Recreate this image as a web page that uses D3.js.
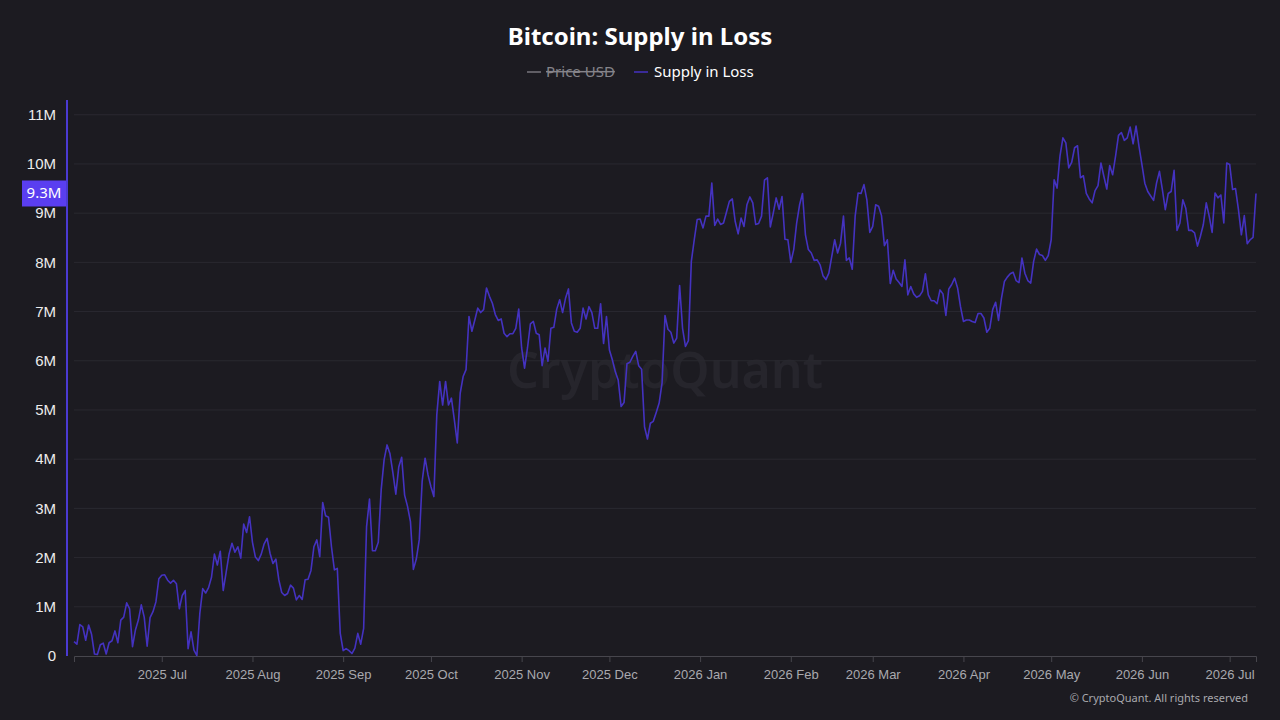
<!DOCTYPE html>
<html>
<head>
<meta charset="utf-8">
<script src="https://cdn.jsdelivr.net/npm/d3@7"></script>
<style>
  html, body { margin: 0; padding: 0; background: #1c1b21; }
  svg { display: block; font-family: "Noto Sans", "Open Sans", sans-serif; }
</style>
</head>
<body>
<script>
// daily Supply in Loss (millions of BTC), starting 2025-06-01
const startDate = new Date(2025, 5, 1);
const supplyInLoss = [
  0.29,0.24,0.64,0.59,0.32,0.63,0.44,0.04,0.03,0.23,
  0.26,0.04,0.27,0.31,0.51,0.27,0.73,0.79,1.08,0.96,
  0.19,0.53,0.73,1.04,0.79,0.20,0.78,0.90,1.10,1.57,
  1.64,1.65,1.54,1.48,1.54,1.47,0.96,1.23,1.33,0.15,
  0.49,0.12,0.01,0.86,1.37,1.28,1.39,1.60,2.07,1.85,
  2.13,1.33,1.70,2.07,2.29,2.11,2.22,1.99,2.68,2.51,
  2.83,2.31,2.01,1.94,2.07,2.28,2.39,2.09,1.88,1.97,
  1.55,1.29,1.23,1.27,1.44,1.38,1.14,1.23,1.15,1.55,
  1.56,1.74,2.22,2.36,2.02,3.12,2.85,2.82,2.22,1.75,
  1.78,0.46,0.11,0.15,0.11,0.05,0.16,0.46,0.24,0.56,
  2.63,3.19,2.14,2.14,2.31,3.38,3.99,4.29,4.11,3.72,
  3.29,3.84,4.04,3.27,3.04,2.73,1.76,1.97,2.36,3.55,
  4.02,3.68,3.44,3.24,4.90,5.58,5.10,5.58,5.10,5.24,
  4.80,4.33,5.34,5.68,5.82,6.90,6.60,6.83,7.07,6.98,
  7.04,7.48,7.31,7.17,6.94,6.82,6.85,6.56,6.49,6.55,
  6.55,6.66,7.05,6.26,5.85,6.26,6.75,6.80,6.56,6.53,
  5.90,6.26,5.99,6.66,6.68,7.05,7.24,6.98,7.27,7.46,
  6.77,6.60,6.58,6.66,7.07,6.85,7.10,6.98,6.66,6.66,
  7.16,6.35,6.90,6.22,6.02,5.78,5.61,5.07,5.15,5.94,
  5.97,6.09,6.19,5.90,5.83,4.66,4.41,4.73,4.77,4.95,
  5.14,5.55,6.92,6.64,6.58,6.36,6.46,7.53,6.66,6.29,
  6.41,8.02,8.46,8.87,8.88,8.70,8.94,8.94,9.61,8.75,
  8.88,8.77,8.80,9.02,9.24,9.29,8.83,8.58,8.90,8.73,
  9.17,9.33,9.21,8.77,8.79,8.94,9.67,9.72,8.72,9.00,
  9.31,9.08,9.34,8.47,8.46,8.00,8.26,8.80,9.17,9.40,
  8.56,8.26,8.19,8.04,8.05,7.95,7.73,7.65,7.78,8.12,
  8.46,8.19,8.39,8.94,8.04,8.09,7.86,8.94,9.41,9.40,
  9.58,9.27,8.61,8.73,9.17,9.14,8.95,8.34,8.46,7.57,
  7.84,7.66,7.59,7.51,8.05,7.34,7.51,7.36,7.29,7.32,
  7.41,7.77,7.34,7.22,7.22,7.16,7.44,7.36,6.92,7.46,
  7.55,7.68,7.48,7.10,6.80,6.83,6.83,6.80,6.78,6.96,
  6.96,6.87,6.58,6.66,7.04,7.19,6.82,7.27,7.61,7.70,
  7.77,7.80,7.63,7.59,8.09,7.78,7.63,7.58,8.02,8.27,
  8.16,8.14,8.04,8.14,8.46,9.68,9.51,10.16,10.53,10.43,
  9.92,10.03,10.33,10.37,9.72,9.76,9.40,9.29,9.21,9.46,
  9.56,10.02,9.75,9.49,9.97,9.78,10.16,10.58,10.64,10.48,
  10.53,10.75,10.41,10.77,10.36,9.99,9.61,9.44,9.35,9.26,
  9.61,9.85,9.48,9.07,9.40,9.44,9.87,8.65,8.80,9.27,
  9.10,8.65,8.65,8.60,8.33,8.53,8.77,9.21,8.94,8.61,
  9.41,9.31,9.37,8.80,10.02,9.99,9.48,9.50,9.07,8.56,
  8.95,8.38,8.46,8.51,9.40
];
const yTicks = [0, 1, 2, 3, 4, 5, 6, 7, 8, 9, 10, 11];
const xTickMonths = ["2025-07", "2025-08", "2025-09", "2025-10", "2025-11", "2025-12",
                     "2026-01", "2026-02", "2026-03", "2026-04", "2026-05", "2026-06", "2026-07"];
const lastLabel = "9.3M";

const width = 1280, height = 720;
const margin = {left: 74, right: 1256, top: 100, bottom: 656};

const data = supplyInLoss.map((v, i) => ({ date: d3.timeDay.offset(startDate, i), value: v }));

const svg = d3.select("body").append("svg")
    .attr("width", width)
    .attr("height", height);

svg.append("rect")
    .attr("width", width)
    .attr("height", height)
    .attr("fill", "#1c1b21");

const x = d3.scaleTime()
    .domain([startDate, data[data.length - 1].date])
    .range([margin.left, margin.right]);

const y = d3.scaleLinear()
    .domain([0, 11.3])
    .range([margin.bottom, margin.top]);

// watermark
svg.append("text")
    .attr("x", 665)
    .attr("y", 374)
    .attr("text-anchor", "middle")
    .attr("dominant-baseline", "middle")
    .style("font-size", "50px")
    .style("font-weight", "600")
    .attr("fill", "#26252c")
    .text("CryptoQuant");

// gridlines
svg.append("g")
    .selectAll("line")
    .data(yTicks.filter(d => d > 0))
    .enter().append("line")
    .attr("x1", margin.left)
    .attr("x2", margin.right)
    .attr("y1", d => y(d))
    .attr("y2", d => y(d))
    .attr("stroke", "#2a2930")
    .attr("stroke-width", 1);

// x axis
const parseMonth = d3.timeParse("%Y-%m");
const xAxis = svg.append("g")
    .attr("transform", `translate(0,${margin.bottom})`)
    .call(d3.axisBottom(x)
        .tickValues(xTickMonths.map(parseMonth))
        .tickFormat(d3.timeFormat("%Y %b"))
        .tickSizeOuter(0)
        .tickSize(6)
        .tickPadding(8));
xAxis.select(".domain").attr("stroke", "#47464d");
xAxis.selectAll(".tick line").attr("stroke", "#47464d");
xAxis.selectAll(".tick text")
    .attr("fill", "#a9a9ae")
    .style("font-size", "13px");

// y axis
const yAxis = svg.append("g")
    .attr("transform", `translate(67,0)`)
    .call(d3.axisLeft(y)
        .tickValues(yTicks)
        .tickFormat(d => d === 0 ? "0" : d + "M")
        .tickSize(0)
        .tickPadding(11));
yAxis.select(".domain")
    .attr("stroke", "#4b3ad2")
    .attr("stroke-width", 2)
    .attr("d", `M0,${margin.top}V${margin.bottom}`);
yAxis.selectAll(".tick text")
    .attr("fill", "#ececec")
    .style("font-size", "15px");

// line
const line = d3.line()
    .x(d => x(d.date))
    .y(d => y(d.value));

svg.append("path")
    .datum(data)
    .attr("fill", "none")
    .attr("stroke", "#4432c0")
    .attr("stroke-width", 1.6)
    .attr("stroke-linejoin", "round")
    .attr("d", line);

// last value badge
const lastY = y(data[data.length - 1].value);
svg.append("rect")
    .attr("x", 22)
    .attr("y", lastY - 13)
    .attr("width", 44)
    .attr("height", 26)
    .attr("fill", "#5a3ef0");
svg.append("text")
    .attr("x", 44)
    .attr("y", lastY)
    .attr("text-anchor", "middle")
    .attr("dominant-baseline", "middle")
    .attr("fill", "#ffffff")
    .style("font-size", "15px")
    .text(lastLabel);

// title
svg.append("text")
    .attr("x", 640)
    .attr("y", 45)
    .attr("text-anchor", "middle")
    .attr("fill", "#ffffff")
    .style("font-size", "24px")
    .style("font-weight", "700")
    .text("Bitcoin: Supply in Loss");

// legend
const legend = svg.append("g");
legend.append("line")
    .attr("x1", 527).attr("x2", 541)
    .attr("y1", 72).attr("y2", 72)
    .attr("stroke", "#77767c").attr("stroke-width", 1.5);
legend.append("text")
    .attr("x", 546).attr("y", 77)
    .attr("fill", "#85848a")
    .style("font-size", "15px")
    .style("text-decoration", "line-through")
    .text("Price USD");
legend.append("line")
    .attr("x1", 634).attr("x2", 648)
    .attr("y1", 72).attr("y2", 72)
    .attr("stroke", "#4432c0").attr("stroke-width", 1.5);
legend.append("text")
    .attr("x", 654).attr("y", 77)
    .attr("fill", "#ffffff")
    .style("font-size", "15px")
    .text("Supply in Loss");

// copyright
svg.append("text")
    .attr("x", 1248)
    .attr("y", 702)
    .attr("text-anchor", "end")
    .attr("fill", "#a9a9ae")
    .style("font-size", "11px")
    .text("\u00a9 CryptoQuant. All rights reserved");
</script>
</body>
</html>
